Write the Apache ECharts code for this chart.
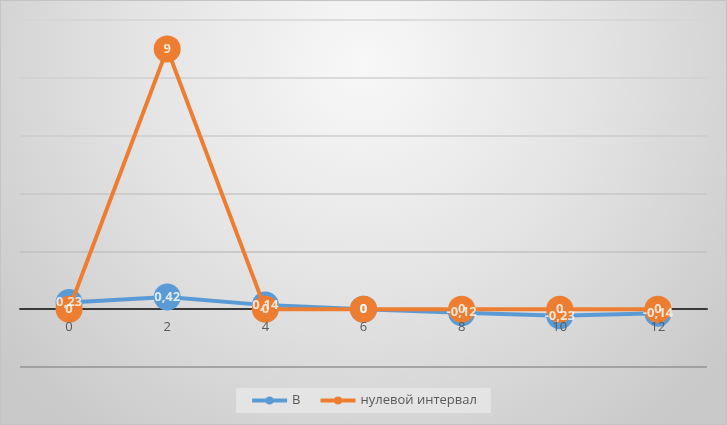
<!DOCTYPE html>
<html>
<head>
<meta charset="utf-8">
<script src="https://cdn.jsdelivr.net/npm/echarts@6/dist/echarts.min.js"></script>
<style>
  html, body { margin: 0; padding: 0; background: #fff; }
  #chart { width: 727px; height: 425px; box-sizing: border-box; border: 1px solid #c4c4c4; }
</style>
</head>
<body>
<div id="chart"></div>
<script>
// x positions (categories)
var categories = ['0', '2', '4', '6', '8', '10', '12'];
// series values
var seriesB = [0.23, 0.42, 0.14, 0, -0.12, -0.23, -0.14];
var seriesZero = [0, 9, 0, 0, 0, 0, 0];
var seriesNames = ['В', 'нулевой интервал'];

var chart = echarts.init(document.getElementById('chart'), null, { renderer: 'canvas' });

function comma(p) {
  return String(p.value).replace('.', ',');
}

var labelStyle = {
  show: true,
  position: 'inside',
  color: '#fff',
  fontWeight: 'bold',
  fontSize: 13,
  fontFamily: 'Open Sans',
  formatter: comma
};

// label-only overlay so all labels sit above all markers, like Excel
function labelSeries(data, z) {
  return {
    type: 'scatter',
    data: data,
    symbolSize: 27,
    itemStyle: { color: 'rgba(0,0,0,0)' },
    label: labelStyle,
    labelLayout: { hideOverlap: false },
    silent: true,
    z: z
  };
}

var option = {
  backgroundColor: {
    type: 'radial', x: 0.5, y: 0.15, r: 1.1,
    colorStops: [
      { offset: 0, color: '#f8f8f8' },
      { offset: 0.5, color: '#e3e3e3' },
      { offset: 1, color: '#c9c9c9' }
    ]
  },
  animation: false,
  grid: { left: 19, right: 19, top: 19, bottom: 57 },
  legend: {
    bottom: 11,
    left: 'center',
    backgroundColor: '#e4e4e4',
    padding: [6, 14, 6, 14],
    itemWidth: 35,
    itemHeight: 10,
    itemGap: 18,
    lineStyle: { width: 4 },
    textStyle: { color: '#595959', fontSize: 13, fontFamily: 'Open Sans' },
    data: seriesNames
  },
  xAxis: [
    {
      // zero line, under the markers
      type: 'category',
      data: categories,
      boundaryGap: true,
      axisLine: { show: true, onZero: true, lineStyle: { color: '#3a3a3a', width: 2 } },
      axisTick: { show: false },
      axisLabel: { show: false },
      splitLine: { show: false }
    },
    {
      // tick labels, drawn above the markers
      type: 'category',
      data: categories,
      position: 'bottom',
      boundaryGap: true,
      z: 12,
      axisLine: { show: false, onZero: false },
      axisTick: { show: false },
      axisLabel: { color: '#595959', fontSize: 13, fontFamily: 'Open Sans', margin: -46 },
      splitLine: { show: false }
    }
  ],
  yAxis: {
    type: 'value',
    min: -2,
    max: 10,
    interval: 2,
    axisLine: { show: false },
    axisTick: { show: false },
    axisLabel: { show: false },
    splitLine: {
      lineStyle: {
        color: ['#939393', '#b0b0b0', '#c0c0c0', '#c6c6c6', '#cccccc', '#d0d0d0', '#d4d4d4'],
        width: 1.5
      }
    }
  },
  series: [
    {
      name: seriesNames[0],
      type: 'line',
      data: seriesB,
      symbol: 'circle',
      symbolSize: 27,
      lineStyle: { color: '#5b9bd5', width: 4 },
      itemStyle: { color: '#5b9bd5', borderWidth: 0 },
      label: { show: false },
      z: 2
    },
    {
      name: seriesNames[1],
      type: 'line',
      data: seriesZero,
      symbol: 'circle',
      symbolSize: 27,
      lineStyle: { color: '#ed7d31', width: 4 },
      itemStyle: { color: '#ed7d31', borderWidth: 0 },
      label: { show: false },
      z: 3
    },
    labelSeries(seriesZero, 10),
    labelSeries(seriesB, 11)
  ]
};

chart.setOption(option);
</script>
</body>
</html>
